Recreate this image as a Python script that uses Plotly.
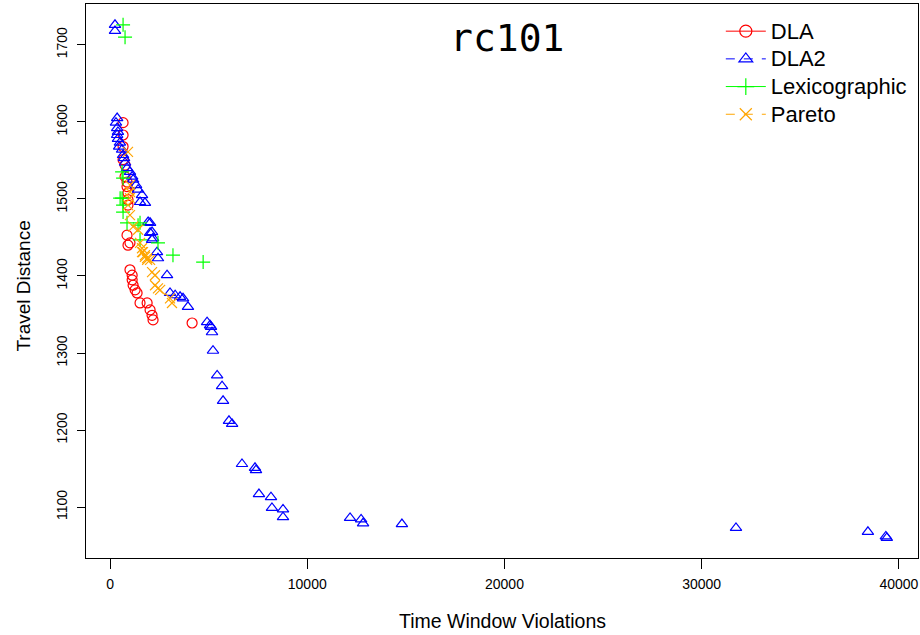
import plotly.graph_objects as go

# ---- data ----
dla_x = [660, 660, 660, 660, 760, 760, 860, 860, 910, 910, 910, 860, 1010, 910, 1010, 1120, 1120, 1170,
         1270, 1370, 1520, 1880, 2030, 2130, 2180, 4160]
dla_y = [1599, 1583, 1568, 1551, 1544, 1529, 1522, 1516, 1508, 1499, 1492, 1453, 1443, 1440, 1408, 1401,
         1395, 1388, 1382, 1378, 1365, 1365, 1356, 1349, 1343, 1339]

dla2_x = [250, 250, 360, 300, 360, 400, 360, 400, 500, 460, 610, 660, 710, 760, 860, 1010, 1120, 1170,
          1320, 1420, 1620, 1520, 1770, 1930, 2030, 2130, 2030, 2180, 2130, 2380, 2430, 2890, 3040, 3300,
          3550, 3700, 3950, 4920, 5070, 5120, 5170, 5220, 5430, 5680, 5730, 6030, 6190, 6690, 7350, 7400,
          7550, 8160, 8210, 8770, 8770, 12170, 12730, 12830, 14800, 31740, 38430, 39340, 39390]
dla2_y = [1726, 1718, 1605, 1599, 1592, 1587, 1583, 1578, 1573, 1568, 1564, 1557, 1553, 1547, 1540, 1535,
          1529, 1525, 1518, 1512, 1505, 1496, 1495, 1470, 1469, 1457, 1456, 1449, 1447, 1431, 1423, 1401,
          1378, 1375, 1373, 1371, 1360, 1340, 1336, 1334, 1327, 1303, 1271, 1257, 1238, 1212, 1208, 1156,
          1151, 1148, 1117, 1113, 1099, 1097, 1087, 1086, 1084, 1079, 1078, 1073, 1068, 1062, 1060]

lex_x = [660, 760, 610, 660, 510, 610, 660, 660, 860, 1420, 1520, 1520, 2430, 3190, 4720]
lex_y = [1726, 1710, 1535, 1527, 1501, 1501, 1492, 1483, 1469, 1466, 1469, 1447, 1443, 1427, 1418]

par_x = [910, 1010, 1010, 1010, 910, 1010, 1170, 1420, 1520, 1620, 1620, 1670, 1770, 1770, 1880, 1880,
         2030, 2130, 2280, 2280, 2430, 2540, 3040, 3140]
par_y = [1561, 1518, 1509, 1501, 1492, 1479, 1464, 1460, 1443, 1436, 1431, 1431, 1427, 1425, 1423, 1421,
         1421, 1405, 1401, 1388, 1384, 1382, 1371, 1365]

x_ticks = [0, 10000, 20000, 30000, 40000]
y_ticks = [1100, 1200, 1300, 1400, 1500, 1600, 1700]

series = [
    ("DLA", dla_x, dla_y, "#FF0000", "circle-open", "solid"),
    ("DLA2", dla2_x, dla2_y, "#0000FF", "triangle-up-open", "dash"),
    ("Lexicographic", lex_x, lex_y, "#00FF00", "cross-thin-open", "solid"),
    ("Pareto", par_x, par_y, "#FFA500", "x-thin-open", "dash"),
]

fig = go.Figure()
for name, xs, ys, col, sym, dash in series:
    fig.add_trace(go.Scatter(
        x=xs, y=ys, mode="markers", name=name, showlegend=False,
        marker=dict(symbol=sym, size=10, color=col, line=dict(color=col, width=1.2)),
    ))
for name, xs, ys, col, sym, dash in series:
    fig.add_trace(go.Scatter(
        x=[None], y=[None], mode="lines+markers",
        name='<span style="font-size:22px">%s</span>' % name, showlegend=True,
        line=dict(color=col, width=1, dash=dash),
        marker=dict(symbol=sym, size=12, color=col, line=dict(color=col, width=1.2)),
    ))

axis_font = dict(family="Liberation Sans, Arial, sans-serif", size=14, color="black")
fig.update_layout(
    width=920, height=635,
    margin=dict(l=86, r=2, t=4, b=77),
    paper_bgcolor="white", plot_bgcolor="white",
    font=dict(family="Liberation Sans, Arial, sans-serif", color="black"),
    xaxis=dict(range=[-1220, 40970], tickvals=x_ticks, ticktext=[str(v) for v in x_ticks],
               showgrid=False, zeroline=False, showline=True, mirror=True, automargin=False,
               linecolor="black", linewidth=1, ticks="outside", ticklen=10,
               tickcolor="black", tickfont=axis_font, ticklabelstandoff=3),
    yaxis=dict(range=[1034, 1753], tickvals=y_ticks, ticktext=[str(v) for v in y_ticks],
               showgrid=False, zeroline=False, showline=True, mirror=True, automargin=False,
               linecolor="black", linewidth=1, ticks="outside", ticklen=8,
               tickcolor="black", tickangle=-90, tickfont=axis_font, ticklabelstandoff=4),
    legend=dict(x=0.763, y=0.985, xanchor="left", yanchor="top",
                bgcolor="rgba(0,0,0,0)", borderwidth=0, itemwidth=40,
                font=dict(family="Liberation Sans, Arial, sans-serif", size=19, color="black"),
                tracegroupgap=0),
    annotations=[
        dict(text="rc101", xref="paper", yref="paper", x=0.506, y=0.9386,
             xanchor="center", yanchor="middle", showarrow=False,
             font=dict(family="DejaVu Sans Mono, monospace", size=38, color="black")),
        dict(text="Travel Distance", xref="paper", yref="paper", x=0, y=0.49,
             xanchor="center", yanchor="middle", xshift=-62, textangle=-90, showarrow=False,
             font=dict(family="Liberation Sans, Arial, sans-serif", size=19, color="black")),
        dict(text="Time Window Violations", xref="paper", yref="paper", x=0.5, y=0,
             xanchor="center", yanchor="middle", yshift=-63, showarrow=False,
             font=dict(family="Liberation Sans, Arial, sans-serif", size=19.5, color="black")),
    ],
)

fig.write_html("out.html", config={"displayModeBar": False},
               post_script="document.body.style.margin='0';")
